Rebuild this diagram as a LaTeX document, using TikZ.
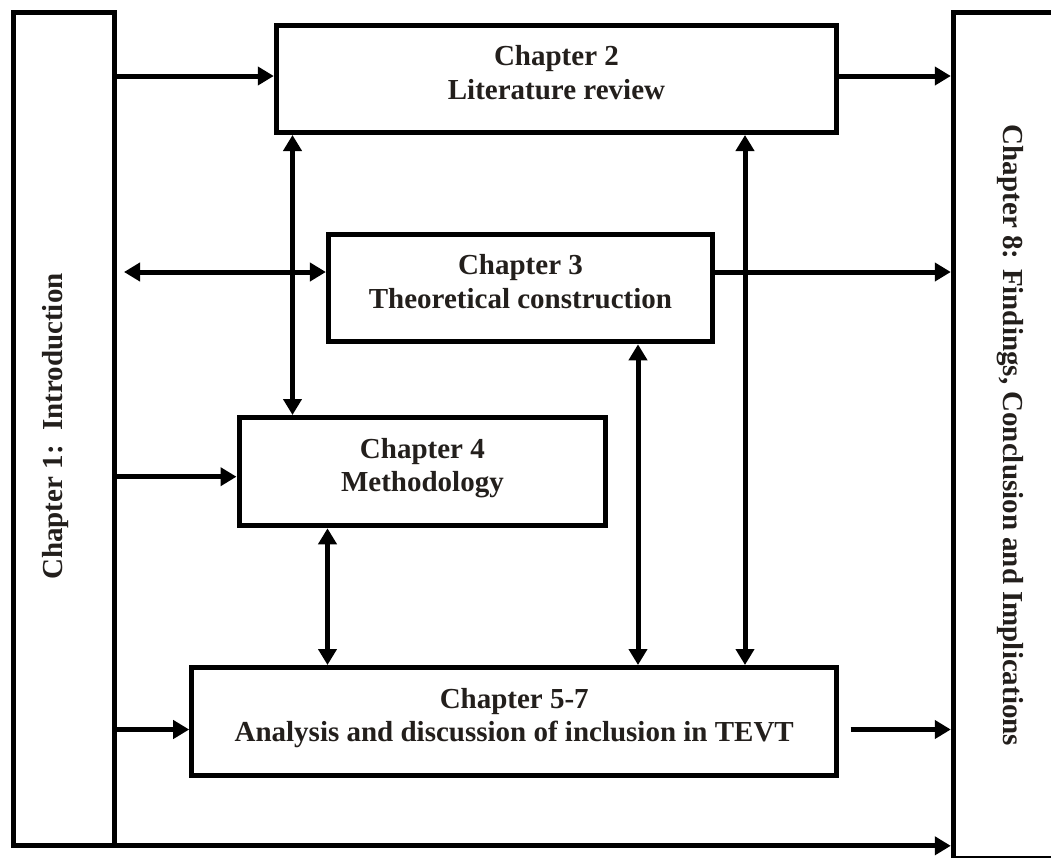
\documentclass[tikz,border=0pt]{standalone}
\usepackage{fontspec}
\setmainfont{Liberation Serif}
\usetikzlibrary{arrows.meta}
\definecolor{txtc}{RGB}{35,31,28}
\newcommand\mydeep{\rule[-13pt]{0pt}{13pt}}
\begin{document}
\begin{tikzpicture}[x=1pt,y=-1pt,
  box/.style={draw=black, line width=5pt, rectangle, inner sep=0pt, align=center,
    font=\fontsize{29}{33.4}\selectfont\bfseries, text=txtc},
  lbl/.style={font=\fontsize{29}{33.4}\selectfont\bfseries, text=txtc, inner sep=0pt},
  arr/.style={line width=5pt, -{Triangle[length=16pt,width=18pt]}},
  darr/.style={line width=5pt, {Triangle[length=16pt,width=18pt]}-{Triangle[length=16pt,width=18pt]}},
]
\useasboundingbox (0,0) rectangle (1051,857);
\fill[white] (0,0) rectangle (1051,857);

% boxes
\node[box, minimum width=100.5pt, minimum height=833.3pt] (c1) at (63.75,429.15) {};
\node[lbl, rotate=90] (t1) at (55.5,426.5) {Chapter 1:~~Introduction};
\node[box, minimum width=560.3pt, minimum height=107.5pt] (c2) at (556.45,78.75) {Chapter 2\\Literature review\mydeep};
\node[box, minimum width=384.1pt, minimum height=107.8pt] (c3) at (520.45,287.9) {Chapter 3\\Theoretical construction\mydeep};
\node[box, minimum width=366.8pt, minimum height=108.3pt] (c4) at (422.4,471.65) {Chapter 4\\Methodology\mydeep};
\node[box, minimum width=645.1pt, minimum height=108.3pt] (c57) at (514.25,721.65) {Chapter 5-7\\Analysis and discussion of inclusion in TEVT\mydeep};
\node[box, minimum width=120pt, minimum height=846pt] (c8) at (1013.3,435.5) {};
\node[lbl, rotate=-90] (t8) at (1010,435.5) {Chapter 8: Findings, Conclusion and Implications};

% levels
\coordinate (y1) at (0,76);
\coordinate (y2) at (0,272);
\coordinate (y3) at (0,476.7);
\coordinate (y4) at (0,729.5);
\coordinate (y5) at (0,845.8);
\coordinate (xa) at (292.5,0);
\coordinate (xb) at (745,0);
\coordinate (xc) at (638,0);
\coordinate (xd) at (327.5,0);
\path (c1.east) ++(7.5,0) coordinate (s3);
\path (c57.east) ++(11.4,0) coordinate (s57);

% horizontal connectors
\draw[arr] (c1.east |- y1) -- (c2.west |- y1);
\draw[arr] (c2.east |- y1) -- (c8.west |- y1);
\draw[darr] (s3 |- y2) -- (c3.west |- y2);
\draw[arr] (c3.east |- y2) -- (c8.west |- y2);
\draw[arr] (c1.east |- y3) -- (c4.west |- y3);
\draw[arr] (c1.east |- y4) -- (c57.west |- y4);
\draw[arr] (s57 |- y4) -- (c8.west |- y4);
\draw[arr] (c1.east |- y5) -- (c8.west |- y5);

% vertical connectors
\draw[darr] (xa |- c2.south) -- (xa |- c4.north);
\draw[darr] (xb |- c2.south) -- (xb |- c57.north);
\draw[darr] (xc |- c3.south) -- (xc |- c57.north);
\draw[darr] (xd |- c4.south) -- (xd |- c57.north);
\end{tikzpicture}
\end{document}
